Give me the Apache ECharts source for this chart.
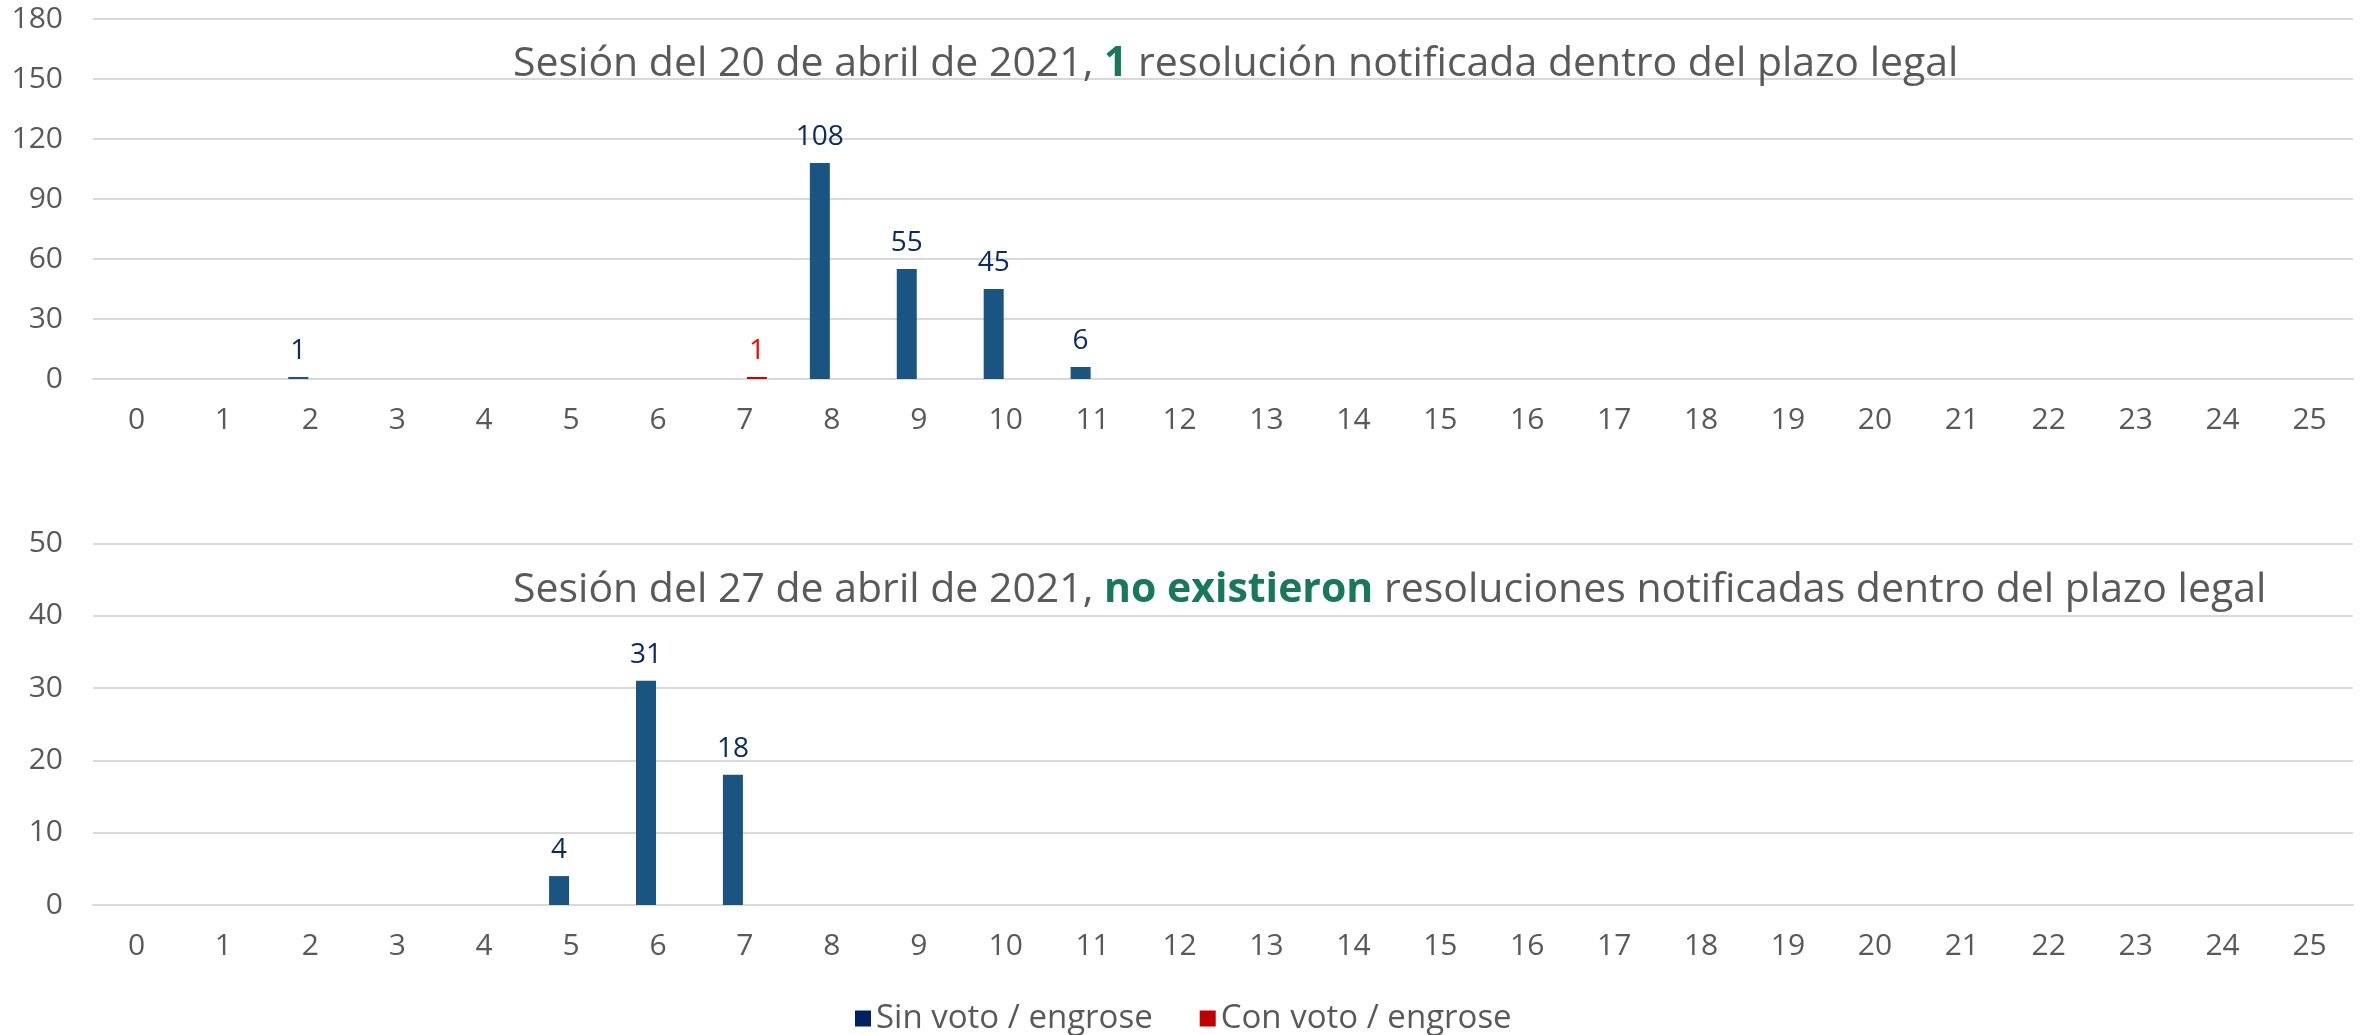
<!DOCTYPE html>
<html>
<head>
<meta charset="utf-8">
<title>Sesiones abril 2021</title>
<script src="https://cdn.jsdelivr.net/npm/echarts@6/dist/echarts.min.js"></script>
<style>
  html, body { margin: 0; padding: 0; background: #fff; }
  #chart { width: 2367px; height: 1035px; }
</style>
</head>
<body>
<div id="chart"></div>
<script>
// dias (eje x)
var categories = ['0', '1', '2', '3', '4', '5', '6', '7', '8', '9', '10', '11', '12',
  '13', '14', '15', '16', '17', '18', '19', '20', '21', '22', '23', '24', '25']

// sesion del 20 de abril
var sinVoto20 = [0, 0, 1, 0, 0, 0, 0, 0, 108, 55, 45, 6, 0, 0, 0, 0, 0, 0, 0, 0, 0, 0, 0, 0, 0, 0]
var conVoto20 = [0, 0, 0, 0, 0, 0, 0, 1, 0, 0, 0, 0, 0, 0, 0, 0, 0, 0, 0, 0, 0, 0, 0, 0, 0, 0]

// sesion del 27 de abril
var sinVoto27 = [0, 0, 0, 0, 0, 4, 31, 18, 0, 0, 0, 0, 0, 0, 0, 0, 0, 0, 0, 0, 0, 0, 0, 0, 0, 0]
var conVoto27 = [0, 0, 0, 0, 0, 0, 0, 0, 0, 0, 0, 0, 0, 0, 0, 0, 0, 0, 0, 0, 0, 0, 0, 0, 0, 0]

// ticks del eje y
var yTicks20 = { min: 0, max: 180, interval: 30 }
var yTicks27 = { min: 0, max: 50, interval: 10 }

var FONT = 'Open Sans'
var GREY = '#595959'
var LINE = '#d9d9d9'

function xAxis(gridIndex) {
  return {
    type: 'category',
    gridIndex: gridIndex,
    data: categories,
    axisLine: { lineStyle: { color: LINE, width: 2 } },
    axisTick: { length: 10, lineStyle: { color: LINE, width: 2 } },
    axisLabel: { color: GREY, fontFamily: FONT, fontSize: 30, margin: 26 }
  }
}

function yAxis(gridIndex, ticks) {
  return {
    type: 'value',
    gridIndex: gridIndex,
    min: ticks.min,
    max: ticks.max,
    interval: ticks.interval,
    axisLine: { show: false },
    axisTick: { show: false },
    splitLine: { lineStyle: { color: LINE, width: 2 } },
    axisLabel: { color: GREY, fontFamily: FONT, fontSize: 30, margin: 30 }
  }
}

function barSeries(name, idx, data, color, labelColor) {
  return {
    name: name,
    type: 'bar',
    xAxisIndex: idx,
    yAxisIndex: idx,
    data: data,
    barWidth: 20,
    barGap: '20%',
    itemStyle: { color: color },
    label: {
      show: true,
      position: 'top',
      distance: 12,
      color: labelColor,
      fontFamily: FONT,
      fontSize: 28,
      formatter: function(p) {
        return p.value ? String(p.value) : '' // los ceros no llevan etiqueta
      }
    },
    animation: false
  }
}

function titleRich() {
  return {
    n: { color: GREY, fontFamily: FONT, fontSize: 41, lineHeight: 41, fontWeight: 'normal' },
    b: { color: '#17795A', fontFamily: FONT, fontSize: 41, lineHeight: 41, fontWeight: 'bold' }
  }
}

var chart = echarts.init(document.getElementById('chart'))
chart.setOption({
  backgroundColor: '#fff',
  animation: false,
  title: [{
    text: '{n|Sesión del 20 de abril de 2021, }{b|1}{n| resolución notificada dentro del plazo legal}',
    left: 513,
    top: 44,
    padding: 0,
    textStyle: { fontWeight: 'normal', rich: titleRich() }
  }, {
    text: '{n|Sesión del 27 de abril de 2021, }{b|no existieron}{n| resoluciones notificadas dentro del plazo legal}',
    left: 513,
    top: 570,
    padding: 0,
    textStyle: { fontWeight: 'normal', rich: titleRich() }
  }],
  legend: {
    left: 855,
    top: 1002,
    padding: 0,
    itemWidth: 16,
    itemHeight: 16,
    itemGap: 47,
    icon: 'rect',
    textStyle: { color: GREY, fontFamily: FONT, fontSize: 33 },
    data: [
      { name: 'Sin voto / engrose', itemStyle: { color: '#002060' } },
      { name: 'Con voto / engrose', itemStyle: { color: '#C00000' } }
    ]
  },
  grid: [
    { left: 93, right: 14, top: 19, height: 360 },
    { left: 93, right: 14, top: 543.5, height: 361.5 }
  ],
  xAxis: [xAxis(0), xAxis(1)],
  yAxis: [yAxis(0, yTicks20), yAxis(1, yTicks27)],
  series: [
    barSeries('Sin voto / engrose', 0, sinVoto20, '#1a5480', '#0d2b63'),
    barSeries('Con voto / engrose', 0, conVoto20, '#d00000', '#ff0000'),
    barSeries('Sin voto / engrose', 1, sinVoto27, '#1a5480', '#0d2b63'),
    barSeries('Con voto / engrose', 1, conVoto27, '#d00000', '#ff0000')
  ]
})
</script>
</body>
</html>
